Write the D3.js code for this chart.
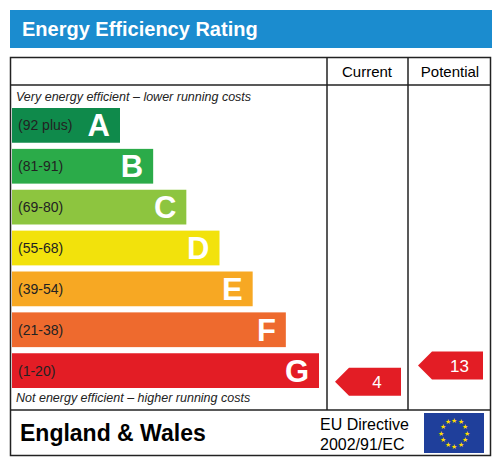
<!DOCTYPE html>
<html><head><meta charset="utf-8">
<script src="https://cdn.jsdelivr.net/npm/d3@7"></script>
<style>body{margin:0;background:#fff}svg{display:block;font-family:Arial,"Liberation Sans",sans-serif}</style>
</head><body><svg id="c" width="502" height="471"></svg>
<script>
const letters = ['A', 'B', 'C', 'D', 'E', 'F', 'G'];
const ranges = ['(92 plus)', '(81-91)', '(69-80)', '(55-68)', '(39-54)', '(21-38)', '(1-20)'];
const colors = ['#0f8a4b', '#2bab49', '#8dc53f', '#f2e20c', '#f7a823', '#ee6a2e', '#e31d25'];
const current = 4;
const potential = 13;

const svg = d3.select('#c');

svg.append('rect').attr('x', 10).attr('y', 10).attr('width', 482).attr('height', 38).attr('fill', '#1b8ccf');
svg.append('text').attr('x', 22).attr('y', 36).attr('fill', '#fff').attr('font-size', 20).attr('font-weight', 'bold').text('Energy Efficiency Rating');

// frame
svg.append('rect').attr('x', 10.5).attr('y', 57.5).attr('width', 480).attr('height', 398).attr('fill', 'none').attr('stroke', '#222').attr('stroke-width', 1.5);
svg.append('line').attr('x1', 10).attr('x2', 491).attr('y1', 410).attr('y2', 410).attr('stroke', '#222').attr('stroke-width', 1.5);
svg.append('line').attr('x1', 10).attr('x2', 491).attr('y1', 85).attr('y2', 85).attr('stroke', '#222').attr('stroke-width', 1.5);
[327, 408].forEach(function(x) {
    svg.append('line').attr('x1', x).attr('x2', x).attr('y1', 57).attr('y2', 410).attr('stroke', '#222').attr('stroke-width', 1.5);
});
svg.append('text').attr('x', 367).attr('y', 77).attr('text-anchor', 'middle').attr('font-size', 15).text('Current');
svg.append('text').attr('x', 450).attr('y', 77).attr('text-anchor', 'middle').attr('font-size', 15).text('Potential');

svg.append('text').attr('x', 16).attr('y', 101).attr('font-size', 12.5).attr('font-style', 'italic').attr('fill', '#222').text('Very energy efficient \u2013 lower running costs');
svg.append('text').attr('x', 16).attr('y', 402).attr('font-size', 12.5).attr('font-style', 'italic').attr('fill', '#222').text('Not energy efficient \u2013 higher running costs');

const y = d3.scaleBand().domain(letters).range([108, 388]).paddingInner(0.15).paddingOuter(0);
const w = d3.scaleLinear().domain([0, 6]).range([108, 307]);

const g = svg.selectAll('g.band').data(letters).enter().append('g').attr('class', 'band');
g.append('rect').attr('x', 12).attr('y', d => y(d)).attr('width', (d, i) => w(i)).attr('height', y.bandwidth()).attr('fill', (d, i) => colors[i]);
g.append('text').attr('x', 18).attr('y', d => y(d) + y.bandwidth() / 2 + 5).attr('font-size', 14).attr('fill', '#222').text((d, i) => ranges[i]);
g.append('text').attr('x', (d, i) => 12 + w(i) - 10).attr('y', d => y(d) + y.bandwidth() / 2 + 11).attr('text-anchor', 'end').attr('font-size', 31).attr('font-weight', 'bold').attr('fill', '#fff').text(d => d);

// arrows placed within G band by value
const ay = d3.scaleLinear().domain([1, 20]).range([387, 353]);
function arrow(x0, x1, v) {
    const cy = ay(v), h = 14;
    svg.append('path').attr('d', `M${x0},${cy} L${x0 + 14},${cy - h} L${x1},${cy - h} L${x1},${cy + h} L${x0 + 14},${cy + h} Z`).attr('fill', colors[letters.indexOf('G')]);
    svg.append('text').attr('x', (x0 + x1) / 2 + 9).attr('y', cy + 6).attr('text-anchor', 'middle').attr('font-size', 17).attr('fill', '#fff').text(v);
}
arrow(335, 401, current);
arrow(418, 483, potential);

svg.append('text').attr('x', 20).attr('y', 441).attr('font-size', 23).attr('font-weight', 'bold').text('England & Wales');
svg.append('text').attr('x', 320).attr('y', 430).attr('font-size', 16).text('EU Directive');
svg.append('text').attr('x', 320).attr('y', 450).attr('font-size', 16).text('2002/91/EC');

svg.append('rect').attr('x', 424).attr('y', 413).attr('width', 60).attr('height', 40).attr('fill', '#1f3f9b');
const stars = d3.range(12);
svg.selectAll('text.star').data(stars).enter().append('text').attr('class', 'star')
    .attr('x', d => 454 + 13 * Math.sin(d * Math.PI / 6))
    .attr('y', d => 433 - 13 * Math.cos(d * Math.PI / 6) + 2.5)
    .attr('text-anchor', 'middle').attr('font-size', 7).attr('fill', '#ffdd00').text('\u2605');
</script></body></html>
